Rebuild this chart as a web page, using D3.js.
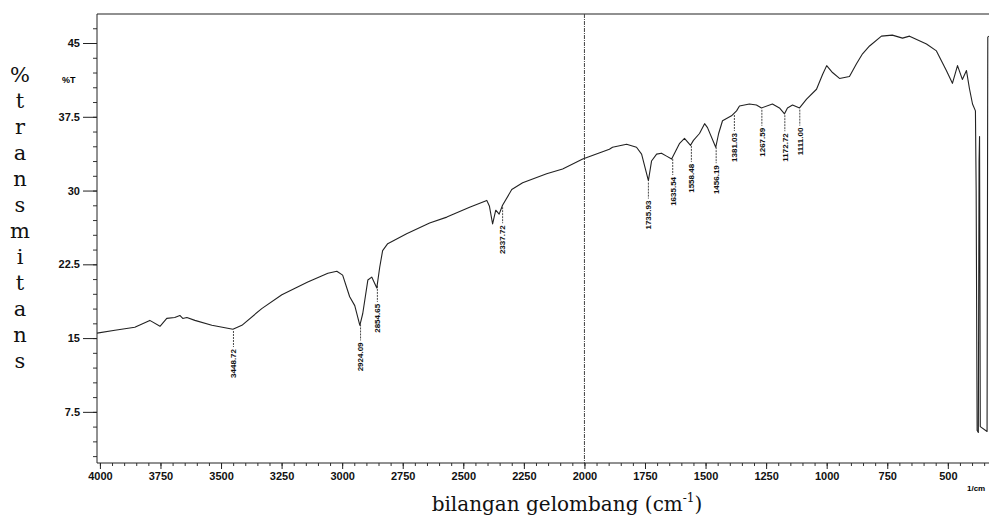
<!DOCTYPE html>
<html>
<head>
<meta charset="utf-8">
<script src="https://cdn.jsdelivr.net/npm/d3@7"></script>
<style>
  body { margin: 0; background: #fff; }
  svg { display: block; }
  .tick text { font-family: "Liberation Sans", Arial, sans-serif; font-weight: bold; }
</style>
</head>
<body>
<div id="chart"></div>
<script>
// IR spectrum, % transmittance vs wavenumber
const wavenumbers = [
  4012, 3938, 3856, 3794, 3752, 3724, 3691, 3670, 3658, 3641, 3608, 3538, 3451, 3414,
  3332, 3249, 3142, 3059, 3022, 2998, 2969, 2948, 2927, 2915, 2894, 2878, 2857, 2845,
  2833, 2812, 2734, 2639, 2568, 2474, 2403, 2392, 2379, 2366, 2352, 2338, 2300, 2255,
  2156, 2090, 2007, 1897, 1884, 1826, 1785, 1764, 1736, 1723, 1702, 1682, 1661, 1640,
  1607, 1587, 1562, 1550, 1525, 1504, 1492, 1458, 1446, 1430, 1393, 1372, 1360, 1319,
  1290, 1269, 1224, 1195, 1174, 1162, 1141, 1112, 1083, 1042, 1017, 1000, 976, 947,
  906, 877, 852, 823, 774, 729, 687, 658, 588, 547, 506, 481, 460, 440, 423, 411, 398,
  386, 383, 379, 374, 371, 369, 366, 338, 335, 330
];
const transmittance = [
  15.5, 15.8, 16.1, 16.8, 16.2, 17.0, 17.1, 17.3, 17.0, 17.1, 16.8, 16.3, 15.9, 16.3,
  18.0, 19.4, 20.7, 21.6, 21.8, 21.4, 19.2, 18.3, 16.3, 17.5, 20.9, 21.2, 20.1, 22.2,
  23.9, 24.6, 25.6, 26.7, 27.3, 28.3, 29.0, 28.4, 26.6, 28.0, 27.6, 28.5, 30.1, 30.8,
  31.7, 32.2, 33.2, 34.2, 34.4, 34.7, 34.4, 33.7, 31.0, 33.0, 33.7, 33.8, 33.5, 33.2,
  34.8, 35.3, 34.6, 35.1, 35.8, 36.8, 36.4, 34.4, 35.8, 37.1, 37.6, 38.1, 38.6, 38.8,
  38.7, 38.4, 38.8, 38.4, 37.8, 38.4, 38.7, 38.4, 39.3, 40.3, 41.8, 42.7, 42.0, 41.4,
  41.6, 42.9, 43.9, 44.7, 45.7, 45.8, 45.5, 45.7, 44.9, 44.2, 42.2, 40.9, 42.7, 41.3,
  42.2, 40.4, 38.8, 38.1, 30.0, 5.6, 5.4, 33.0, 35.5, 6.0, 5.5, 45.6, 45.7
];

// picked peaks
const peakWavenumbers = [3448.72, 2924.09, 2854.65, 2337.72, 1735.93, 1635.54, 1558.48, 1456.19, 1381.03, 1267.59, 1172.72, 1111.00];

const yTicks = [7.5, 15, 22.5, 30, 37.5, 45];
const xTicks = [4000, 3750, 3500, 3250, 3000, 2750, 2500, 2250, 2000, 1750, 1500, 1250, 1000, 750, 500];
const yLabelLetters = ['%', 't', 'r', 'a', 'n', 's', 'm', 'i', 't', 'a', 'n', 's'];

const width = 989;
const height = 517;
const plot = { left: 97, right: 989, top: 14, bottom: 463 };

const svg = d3.select('#chart').append('svg')
  .attr('width', width)
  .attr('height', height);

const x = d3.scaleLinear()
  .domain([4012, 330])
  .range([plot.left, plot.right]);

const y = d3.scaleLinear()
  .domain([2.3, 47.95])
  .range([plot.bottom, plot.top]);

// minor ticks
const yMinor = d3.range(3, 47.6, 1.5);
const xMinor = d3.range(4000, 330, -50);

svg.append('g')
  .attr('transform', 'translate(' + plot.left + ',0)')
  .call(d3.axisLeft(y).tickValues(yMinor).tickSize(4).tickFormat(''))
  .call(g => g.select('.domain').remove())
  .selectAll('line').attr('stroke', '#333');

svg.append('g')
  .attr('transform', 'translate(0,' + plot.bottom + ')')
  .call(d3.axisBottom(x).tickValues(xMinor).tickSize(3).tickFormat(''))
  .call(g => g.select('.domain').remove())
  .selectAll('line').attr('stroke', '#333');

// y axis
const yAxis = svg.append('g')
  .attr('transform', 'translate(' + plot.left + ',0)')
  .call(d3.axisLeft(y).tickValues(yTicks).tickSize(14).tickPadding(3).tickFormat(d => d));
yAxis.select('.domain').attr('d', 'M0,' + plot.top + 'V' + plot.bottom).attr('stroke', '#222');
yAxis.selectAll('line').attr('stroke', '#222');
yAxis.selectAll('text').attr('font-size', 11).attr('fill', '#111');

// x axis
const xAxis = svg.append('g')
  .attr('transform', 'translate(0,' + plot.bottom + ')')
  .call(d3.axisBottom(x).tickValues(xTicks).tickSize(6).tickPadding(3).tickFormat(d => d));
xAxis.select('.domain').attr('d', 'M' + plot.left + ',0H' + plot.right).attr('stroke', '#222');
xAxis.selectAll('line').attr('stroke', '#222');
xAxis.selectAll('text').attr('font-size', 11).attr('fill', '#111');

// top border
svg.append('line')
  .attr('x1', plot.left).attr('x2', plot.right)
  .attr('y1', plot.top).attr('y2', plot.top)
  .attr('stroke', '#222').attr('stroke-width', 1.2);

// dotted marker at 2000
svg.append('line')
  .attr('x1', x(2000)).attr('x2', x(2000))
  .attr('y1', plot.top).attr('y2', plot.bottom)
  .attr('stroke', '#444').attr('stroke-width', 1)
  .attr('stroke-dasharray', '4,1,1,1');

// spectrum
const points = wavenumbers.map((w, i) => [w, transmittance[i]]);

svg.append('clipPath').attr('id', 'clip')
  .append('rect')
  .attr('x', plot.left).attr('y', plot.top)
  .attr('width', plot.right - plot.left).attr('height', plot.bottom - plot.top);

svg.append('path')
  .datum(points)
  .attr('clip-path', 'url(#clip)')
  .attr('fill', 'none')
  .attr('stroke', '#222')
  .attr('stroke-width', 1.1)
  .attr('stroke-linejoin', 'round')
  .attr('d', d3.line().x(d => x(d[0])).y(d => y(d[1])));

// peak labels
const tAt = function(w) {
  const i = wavenumbers.findIndex(v => v <= w);
  const w0 = wavenumbers[i - 1], w1 = wavenumbers[i];
  const t = (w0 - w) / (w0 - w1);
  return transmittance[i - 1] + t * (transmittance[i] - transmittance[i - 1]);
};

const peaks = svg.append('g');
peakWavenumbers.forEach(w => {
  const px = x(w);
  const py = y(tAt(w)) + 2;
  peaks.append('line')
    .attr('x1', px).attr('x2', px)
    .attr('y1', py).attr('y2', py + 16)
    .attr('stroke', '#333').attr('stroke-width', 0.9)
    .attr('stroke-dasharray', '2,1');
  peaks.append('text')
    .attr('transform', 'translate(' + px + ',' + (py + 18) + ') rotate(-90)')
    .attr('text-anchor', 'end')
    .attr('dy', '0.35em')
    .attr('font-family', '"Liberation Sans", Arial, sans-serif')
    .attr('font-weight', 'bold')
    .attr('font-size', 8)
    .attr('fill', '#111')
    .text(w.toFixed(2));
});

// small labels
svg.append('text')
  .attr('x', 62).attr('y', 83)
  .attr('font-family', '"Liberation Sans", Arial, sans-serif')
  .attr('font-weight', 'bold').attr('font-size', 9)
  .text('%T');

svg.append('text')
  .attr('x', 967).attr('y', 491)
  .attr('font-family', '"Liberation Sans", Arial, sans-serif')
  .attr('font-weight', 'bold').attr('font-size', 8)
  .text('1/cm');

// axis titles
const xTitle = svg.append('text')
  .attr('x', 567).attr('y', 511)
  .attr('text-anchor', 'middle')
  .attr('font-family', '"DejaVu Serif", serif')
  .attr('font-size', 20)
  .attr('fill', '#111');
xTitle.append('tspan').text('bilangan gelombang (cm');
xTitle.append('tspan').attr('font-size', 12).attr('dy', -9).text('-1');
xTitle.append('tspan').attr('dy', 9).text(')');

svg.append('g')
  .selectAll('text')
  .data(yLabelLetters)
  .join('text')
  .attr('x', 20)
  .attr('y', (d, i) => 82 + i * 26)
  .attr('text-anchor', 'middle')
  .attr('font-family', '"DejaVu Serif", serif')
  .attr('font-size', 21)
  .attr('fill', '#111')
  .text(d => d);
</script>
</body>
</html>
